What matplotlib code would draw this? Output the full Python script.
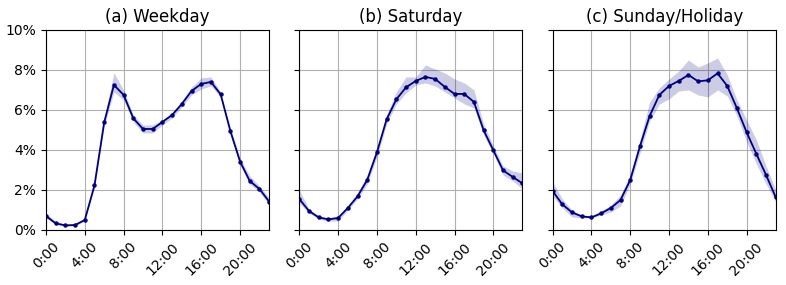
import matplotlib
matplotlib.use("Agg")
import matplotlib.pyplot as plt
import numpy as np
from matplotlib.ticker import FuncFormatter

hours = list(range(24))
tick_pos = [0, 4, 8, 12, 16, 20]
tick_labels = ["0:00", "4:00", "8:00", "12:00", "16:00", "20:00"]
titles = ["(a) Weekday", "(b) Saturday", "(c) Sunday/Holiday"]

weekday = [0.70, 0.33, 0.23, 0.25, 0.50, 2.23, 5.38, 7.25, 6.75, 5.58, 5.05, 5.05,
           5.40, 5.75, 6.30, 6.95, 7.30, 7.40, 6.78, 4.95, 3.42, 2.45, 2.05, 1.42]
weekday_hi = [0.85, 0.42, 0.30, 0.30, 0.55, 2.30, 5.60, 7.85, 7.00, 5.75, 5.25, 5.25,
              5.50, 5.85, 6.45, 7.15, 7.60, 7.65, 6.90, 5.10, 3.60, 2.70, 2.20, 1.60]
weekday_lo = [0.60, 0.28, 0.20, 0.20, 0.45, 2.15, 5.20, 6.90, 6.50, 5.40, 4.85, 4.85,
              5.25, 5.60, 6.15, 6.75, 7.05, 7.20, 6.65, 4.80, 3.25, 2.30, 1.90, 1.25]

saturday = [1.55, 0.95, 0.63, 0.53, 0.60, 1.10, 1.68, 2.50, 3.88, 5.53, 6.53, 7.13,
            7.45, 7.65, 7.55, 7.15, 6.80, 6.80, 6.40, 4.98, 3.98, 2.98, 2.65, 2.33]
saturday_hi = [2.00, 1.05, 0.70, 0.60, 0.70, 1.20, 1.85, 2.75, 4.10, 5.75, 6.90, 7.65,
               7.65, 8.25, 8.05, 7.85, 7.55, 7.35, 7.00, 5.30, 4.20, 3.20, 2.95, 2.85]
saturday_lo = [1.35, 0.85, 0.55, 0.45, 0.45, 1.00, 1.55, 2.30, 3.65, 5.30, 6.30, 6.85,
               7.25, 7.35, 7.20, 6.90, 6.60, 6.30, 6.10, 4.75, 3.80, 2.75, 2.45, 2.05]

sunday = [1.95, 1.28, 0.88, 0.68, 0.63, 0.83, 1.10, 1.50, 2.50, 4.18, 5.70, 6.75,
          7.20, 7.45, 7.75, 7.43, 7.48, 7.83, 7.20, 6.08, 4.88, 3.80, 2.75, 1.63]
sunday_hi = [2.40, 1.55, 1.00, 0.75, 0.70, 0.95, 1.25, 1.75, 2.75, 4.50, 6.40, 7.10,
             7.55, 7.95, 8.50, 8.15, 8.35, 8.60, 7.75, 6.50, 5.50, 4.50, 3.20, 2.00]
sunday_lo = [1.70, 1.10, 0.65, 0.60, 0.60, 0.75, 0.90, 1.20, 2.30, 3.85, 5.45, 6.30,
             6.55, 6.95, 7.00, 6.75, 6.65, 7.00, 6.70, 5.70, 4.40, 3.30, 2.30, 1.40]

series = [(weekday, weekday_lo, weekday_hi),
          (saturday, saturday_lo, saturday_hi),
          (sunday, sunday_lo, sunday_hi)]

fig, axes = plt.subplots(1, 3, figsize=(7.86, 2.85), dpi=100, sharey=True)
fig.subplots_adjust(left=0.0585, right=0.987, top=0.895, bottom=0.193, wspace=0.135)

for ax, title, (m, lo, hi) in zip(axes, titles, series):
    ax.fill_between(hours, lo, hi, color="navy", alpha=0.2, linewidth=0)
    ax.plot(hours, m, color="navy", marker="o", markersize=2.2, linewidth=1.3)
    ax.set_title(title, fontsize=12)
    ax.set_xlim(0, 23)
    ax.set_ylim(0, 10)
    ax.set_xticks(tick_pos)
    ax.set_xticklabels(tick_labels, rotation=45, fontsize=10)
    ax.set_yticks([0, 2, 4, 6, 8, 10])
    ax.grid(True, color="#b0b0b0", linewidth=0.8)
    ax.set_axisbelow(True)

axes[0].yaxis.set_major_formatter(FuncFormatter(lambda v, p: f"{v:.0f}%"))

fig.savefig("out.png", dpi=100)
